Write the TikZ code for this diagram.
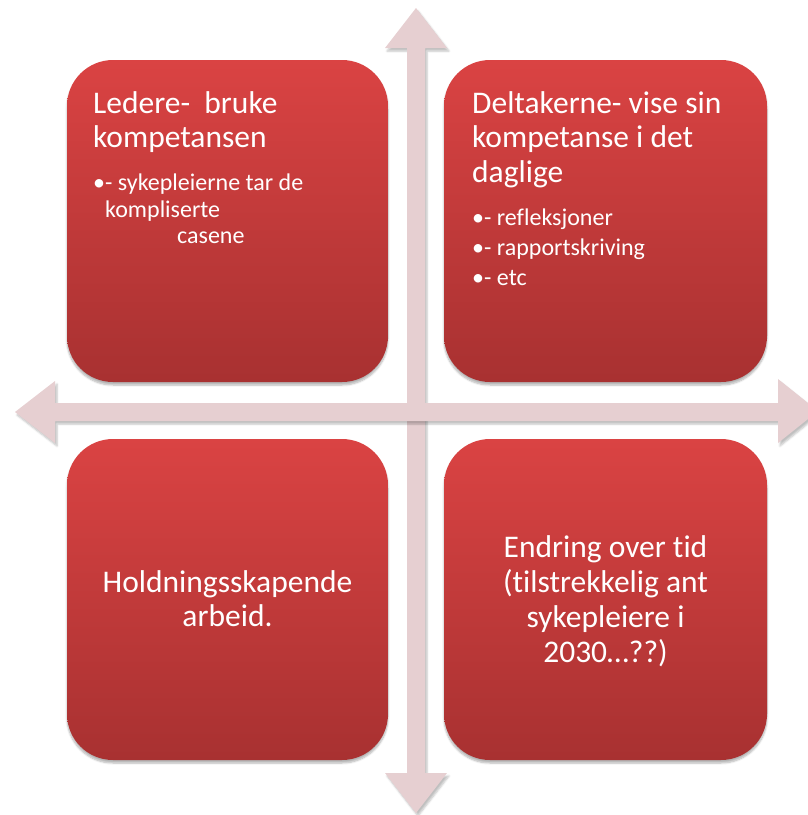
\documentclass[tikz,border=0pt]{standalone}
\usepackage{fontspec}
\setmainfont{Carlito}[Ligatures={NoCommon}]
\usetikzlibrary{shadows.blur}
\definecolor{boxtop}{HTML}{DA4343}
\definecolor{boxbot}{HTML}{A83131}
\definecolor{arrowfill}{HTML}{E6CFD1}
\tikzset{
  quad/.style={rounded corners=46pt, top color=boxtop, bottom color=boxbot, draw=none,
    blur shadow={shadow xshift=0pt, shadow yshift=-3pt, shadow blur steps=6, shadow opacity=30}},
  ttl/.style={text=white, font=\fontsize{31.5}{36}\selectfont, inner sep=0pt},
  bul/.style={text=white, font=\fontsize{24}{28}\selectfont, inner sep=0pt},
  cross/.style={fill=arrowfill, draw=none,
    blur shadow={shadow xshift=2pt, shadow yshift=-3pt, shadow blur steps=5, shadow opacity=25}}
}
\begin{document}
\begin{tikzpicture}[x=1pt,y=-1pt]
\useasboundingbox (0,0) rectangle (808,815);
\begin{scope}
\clip (0,0) rectangle (808,815);
% vertical double arrow
\path[cross] (416,8) -- (447,48) -- (425,48) -- (425,773) -- (447,773) -- (416,813)
  -- (385,773) -- (407,773) -- (407,48) -- (385,48) -- cycle;
% horizontal double arrow
\path[cross] (15,412) -- (55,381) -- (55,403) -- (778,403) -- (778,379) -- (818,411)
  -- (778,443) -- (778,421) -- (55,421) -- (55,443) -- cycle;
\fill[arrowfill] (407,403) rectangle (425,421);
\end{scope}
% boxes
\path[quad] (67,60) rectangle (388,382);
\path[quad] (444,60) rectangle (767,382);
\path[quad] (67,439) rectangle (388,760);
\path[quad] (444,439) rectangle (767,760);
% top-left text
\node[ttl, anchor=base west] (tl1) at (93,113) {Ledere-\ \ bruke};
\node[ttl, anchor=base west] (tl2) at (93,147) {kompetansen};
\node[bul, anchor=base west] (tl3) at (93,190) {•- sykepleierne tar de};
\node[bul, anchor=base west] (tl4) at (105,217) {kompliserte};
\node[bul, anchor=base west] (tl5) at (177,243) {casene};
% top-right text
\node[ttl, anchor=base west] (tr1) at (472,113) {Deltakerne- vise sin};
\node[ttl, anchor=base west] (tr2) at (472,147) {kompetanse i det};
\node[ttl, anchor=base west] (tr3) at (472,182) {daglige};
\node[bul, anchor=base west] (tr4) at (472,225) {•- refleksjoner};
\node[bul, anchor=base west] (tr5) at (472,255) {•- rapportskriving};
\node[bul, anchor=base west] (tr6) at (472,285) {•- etc};
% bottom-left text
\node[ttl, anchor=base] (bl1) at (227.5,592) {Holdningsskapende};
\node[ttl, anchor=base] (bl2) at (227.5,626) {arbeid.};
% bottom-right text
\node[ttl, anchor=base] (br1) at (605.5,557) {Endring over tid};
\node[ttl, anchor=base] (br2) at (605.5,592) {(tilstrekkelig ant};
\node[ttl, anchor=base] (br3) at (605.5,627) {sykepleiere i};
\node[ttl, anchor=base] (br4) at (605.5,662) {2030…??)};
\end{tikzpicture}
\end{document}
